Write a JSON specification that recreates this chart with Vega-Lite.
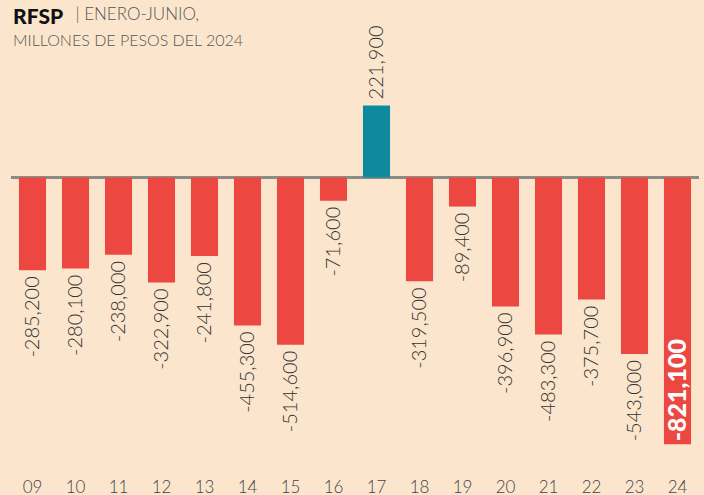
{
  "$schema": "https://vega.github.io/schema/vega-lite/v6.json",
  "width": 688,
  "height": 390,
  "autosize": {"type": "none"},
  "padding": {"left": 11, "top": 80, "right": 5, "bottom": 25},
  "background": "#fbe6cd",
  "config": {"view": {"stroke": null}, "font": "Lato"},
  "title": {
    "text": "RFSP",
    "subtitle": "MILLONES DE PESOS DEL 2024",
    "anchor": "start",
    "frame": "group",
    "dx": 2,
    "offset": -44,
    "font": "Lato",
    "fontSize": 21,
    "fontWeight": 900,
    "color": "#111111",
    "subtitleFont": "Lato",
    "subtitleFontSize": 16,
    "subtitleFontWeight": 300,
    "subtitleColor": "#555555",
    "subtitlePadding": 5
  },
  "data": {
    "values": [
      {"year": "09", "v": -285200, "label": "-285,200"},
      {"year": "10", "v": -280100, "label": "-280,100"},
      {"year": "11", "v": -238000, "label": "-238,000"},
      {"year": "12", "v": -322900, "label": "-322,900"},
      {"year": "13", "v": -241800, "label": "-241,800"},
      {"year": "14", "v": -455300, "label": "-455,300"},
      {"year": "15", "v": -514600, "label": "-514,600"},
      {"year": "16", "v": -71600, "label": "-71,600"},
      {"year": "17", "v": 221900, "label": "221,900"},
      {"year": "18", "v": -319500, "label": "-319,500"},
      {"year": "19", "v": -89400, "label": "-89,400"},
      {"year": "20", "v": -396900, "label": "-396,900"},
      {"year": "21", "v": -483300, "label": "-483,300"},
      {"year": "22", "v": -375700, "label": "-375,700"},
      {"year": "23", "v": -543000, "label": "-543,000"},
      {"year": "24", "v": -821100, "label": "-821,100"}
    ]
  },
  "encoding": {
    "x": {
      "field": "year",
      "type": "ordinal",
      "sort": null,
      "scale": {"paddingInner": 0.37, "paddingOuter": 0.185},
      "axis": {
        "title": null,
        "domain": false,
        "ticks": false,
        "labelAngle": 0,
        "labelFont": "Lato",
        "labelFontSize": 17,
        "labelFontWeight": 300,
        "labelColor": "#444444",
        "labelPadding": 9
      }
    },
    "y": {
      "field": "v",
      "type": "quantitative",
      "scale": {"domain": [-900000, 300000], "nice": false, "zero": false},
      "axis": {
        "title": "|  ENERO-JUNIO,",
        "titleAngle": 0,
        "titleAlign": "left",
        "titleBaseline": "alphabetic",
        "titleX": 64,
        "titleY": -61,
        "titleFont": "Lato",
        "titleFontSize": 17,
        "titleFontWeight": 300,
        "titleColor": "#555555",
        "labels": false,
        "ticks": false,
        "domain": false,
        "grid": false
      }
    }
  },
  "layer": [
    {
      "mark": {"type": "rule", "color": "#8c8a84", "strokeWidth": 1.5},
      "encoding": {"x": null, "y": {"datum": 0}}
    },
    {
      "mark": {"type": "bar"},
      "encoding": {
        "color": {
          "condition": {"test": "datum.v > 0", "value": "#0d8a9d"},
          "value": "#ec4841"
        }
      }
    },
    {
      "transform": [{"filter": "datum.v < 0 && datum.year != '24'"}],
      "mark": {
        "type": "text",
        "angle": 270,
        "align": "right",
        "baseline": "middle",
        "dx": -6,
        "font": "Lato",
        "fontSize": 20,
        "fontWeight": 300,
        "color": "#333333"
      },
      "encoding": {"text": {"field": "label"}}
    },
    {
      "transform": [{"filter": "datum.v > 0"}],
      "mark": {
        "type": "text",
        "angle": 270,
        "align": "left",
        "baseline": "middle",
        "dx": 6,
        "font": "Lato",
        "fontSize": 20,
        "fontWeight": 300,
        "color": "#333333"
      },
      "encoding": {"text": {"field": "label"}}
    },
    {
      "transform": [{"filter": "datum.year == '24'"}],
      "mark": {
        "type": "text",
        "angle": 270,
        "align": "left",
        "baseline": "middle",
        "dx": 3,
        "font": "Lato",
        "fontSize": 25,
        "fontWeight": 900,
        "color": "#ffffff"
      },
      "encoding": {"text": {"field": "label"}}
    }
  ]
}
